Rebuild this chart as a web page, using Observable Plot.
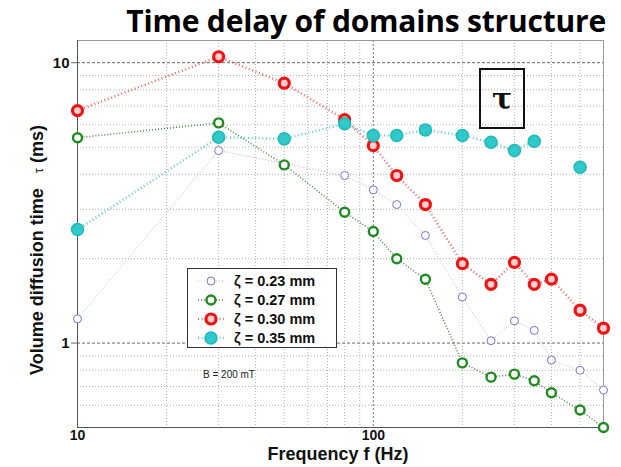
<!DOCTYPE html>
<html><head><meta charset="utf-8">
<script src="https://cdn.jsdelivr.net/npm/d3@7"></script>
<script src="https://cdn.jsdelivr.net/npm/@observablehq/plot@0.6"></script>
<style>
body{margin:0;background:#fff;}
#wrap{position:relative;width:621px;height:467px;overflow:hidden;font-family:"Liberation Sans",Arial,sans-serif;color:#111;}
#title{position:absolute;right:15px;top:3px;line-height:36px;font-family:"Open Sans",sans-serif;font-weight:bold;font-size:30px;letter-spacing:-0.2px;white-space:nowrap;color:#000;}
#chart{position:absolute;left:0;top:38px;}
#ylab{position:absolute;left:37px;top:250px;transform:translate(-50%,-50%) rotate(-90deg);white-space:nowrap;font-weight:bold;font-size:18px;}
#ylab .tau{font-weight:normal;font-size:13px;}
#xlab{position:absolute;left:338px;top:454px;transform:translate(-50%,-50%);white-space:nowrap;font-weight:bold;font-size:18px;}
#taubox{position:absolute;left:479px;top:68px;width:42px;height:57px;border:2px solid #111;display:flex;align-items:center;justify-content:center;font-family:"DejaVu Serif",serif;font-weight:bold;font-size:30px;}
#bnote{position:absolute;left:203px;top:374px;transform:translateY(-50%);font-size:10px;white-space:nowrap;color:#222;}
#legend{position:absolute;left:187px;top:268px;width:148px;height:76px;border:1px solid #333;background:#fff;padding-top:2px;box-sizing:content-box;}
#legend .row{height:19px;display:flex;align-items:center;}
#legend svg{margin-left:8px;}
#legend span{margin-left:8px;font-weight:bold;font-size:14.5px;white-space:nowrap;}
</style>
</head><body>
<div id="wrap">
  <div id="chart"></div>
  <div id="title"></div>
  <div id="ylab"></div>
  <div id="xlab"></div>
  <div id="taubox"></div>
  <div id="bnote"></div>
  <div id="legend"></div>
</div>
<script>
// ---- data ----
const titleText = "Time delay of domains structure";
const xLabel = "Frequency f (Hz)";
const yLabelMain = "Volume diffusion time";
const yLabelSym = "τ";
const yLabelUnit = "(ms)";
const boxText = "τ";
const noteText = "B = 200 mT";
const freqs = [10, 30, 50, 80, 100, 120, 150, 200, 250, 300, 350, 400, 500, 600];
const seriesNames = ["ζ = 0.23 mm", "ζ = 0.27 mm", "ζ = 0.30 mm", "ζ = 0.35 mm"];
const tau023 = [1.22, 4.86, null, 3.96, 3.52, 3.12, 2.42, 1.46, 1.02, 1.20, 1.11, 0.87, 0.80, 0.68];
const tau027 = [5.40, 6.10, 4.32, 2.93, 2.50, 2.00, 1.69, 0.85, 0.756, 0.775, 0.734, 0.665, 0.577, 0.50];
const tau030 = [6.75, 10.5, 8.45, 6.27, 5.06, 3.96, 3.12, 1.92, 1.62, 1.94, 1.62, 1.69, 1.31, 1.13];
const tau035 = [2.54, 5.42, 5.35, 6.06, 5.50, 5.50, 5.76, 5.50, 5.20, 4.86, 5.25, null, 4.24, null];
const xTicks = [10, 100];
const yTicks = [1, 10];
const xGridMinor = [20, 30, 40, 50, 60, 70, 80, 90, 200, 300, 400, 500];
const xGridMajor = [100];
const yGridMinor = [0.6, 0.7, 0.8, 0.9, 2, 3, 4, 5, 6, 7, 8, 9];
const yGridMajor = [1, 10];

// ---- styles ----
const styles = [
  {line:{stroke:"#b4b4cc", strokeWidth:1, strokeDasharray:"1,2"}, dot:{r:4, stroke:"#7474e0", fill:"#fff", strokeWidth:1}, connect:true},
  {line:{stroke:"#4f7f4f", strokeWidth:1.5, strokeDasharray:"1,2"}, dot:{r:4.5, stroke:"#1f8a1f", fill:"#fff", strokeWidth:2.4}, connect:false},
  {line:{stroke:"#ee6a6a", strokeWidth:2.6, strokeDasharray:"1,2.6"}, dot:{r:5, stroke:"#ee1414", fill:"#ffd0d0", strokeWidth:3.2}, connect:false},
  {line:{stroke:"#66d0d0", strokeWidth:2.6, strokeDasharray:"1,2.6"}, dot:{r:6, stroke:"#1cbaba", fill:"#30c8c8", strokeWidth:1.5}, connect:false}
];
const allSeries = [tau023, tau027, tau030, tau035];

const lineMarks = [], dotMarks = [];
allSeries.forEach((vals, k) => {
  const rows = freqs.map((f, i) => ({f, v: vals[i]}));
  const defined = rows.filter(d => d.v != null);
  const st = styles[k];
  lineMarks.push(Plot.line(st.connect ? defined : rows, {x:"f", y:"v", strokeLinecap:"butt", ...st.line}));
  dotMarks.push(Plot.dot(defined, {x:"f", y:"v", ...st.dot}));
});

const chart = Plot.plot({
  width: 621, height: 429,
  marginTop: 2, marginBottom: 40, marginLeft: 77, marginRight: 18,
  style: {background: "transparent", fontFamily: "Liberation Sans, Arial, sans-serif"},
  x: {type: "log", domain: [10, 600]},
  y: {type: "log", domain: [0.5, 12]},
  marks: [
    Plot.ruleX(xGridMinor, {stroke:"#b0b0b0", strokeDasharray:"1,2"}),
    Plot.ruleY(yGridMinor, {stroke:"#b0b0b0", strokeDasharray:"1,2"}),
    Plot.ruleX(xGridMajor, {stroke:"#777", strokeDasharray:"2,2"}),
    Plot.ruleY(yGridMajor, {stroke:"#666", strokeDasharray:"3,2"}),
    Plot.frame({stroke:"#999"}),
    Plot.ruleY([0.5], {stroke:"#555"}),
    Plot.ruleX([10], {stroke:"#555"}),
    Plot.axisX({ticks: xTicks, tickFormat: d => String(d), tickSize: 0, tickPadding: 3, label: null, fontSize: 14, fontWeight: "bold", color:"#111"}),
    Plot.axisY({ticks: yTicks, tickFormat: d => String(d), tickSize: 6, tickPadding: 2, label: null, fontSize: 15, fontWeight: "bold", stroke:"#666"}),
    ...lineMarks,
    ...dotMarks
  ]
});
document.getElementById("chart").appendChild(chart);

document.getElementById("title").textContent = titleText;
document.getElementById("xlab").textContent = xLabel;
document.getElementById("ylab").innerHTML = yLabelMain + "&nbsp;&nbsp;&nbsp;<span class='tau'>" + yLabelSym + "</span> " + yLabelUnit;
document.getElementById("taubox").textContent = boxText;
document.getElementById("bnote").textContent = noteText;

const leg = document.getElementById("legend");
seriesNames.forEach((name, k) => {
  const st = styles[k];
  const row = document.createElement("div");
  row.className = "row";
  const ns = "http://www.w3.org/2000/svg";
  const svg = document.createElementNS(ns, "svg");
  svg.setAttribute("width", 30); svg.setAttribute("height", 16);
  const ln = document.createElementNS(ns, "line");
  ln.setAttribute("x1", 2); ln.setAttribute("x2", 28); ln.setAttribute("y1", 8); ln.setAttribute("y2", 8);
  ln.setAttribute("stroke", st.line.stroke); ln.setAttribute("stroke-width", st.line.strokeWidth); ln.setAttribute("stroke-dasharray", st.line.strokeDasharray);
  const c = document.createElementNS(ns, "circle");
  c.setAttribute("cx", 15); c.setAttribute("cy", 8); c.setAttribute("r", st.dot.r);
  c.setAttribute("stroke", st.dot.stroke); c.setAttribute("fill", st.dot.fill); c.setAttribute("stroke-width", st.dot.strokeWidth);
  svg.appendChild(ln); svg.appendChild(c);
  const sp = document.createElement("span");
  sp.textContent = name;
  row.appendChild(svg); row.appendChild(sp);
  leg.appendChild(row);
});
</script>
</body></html>
